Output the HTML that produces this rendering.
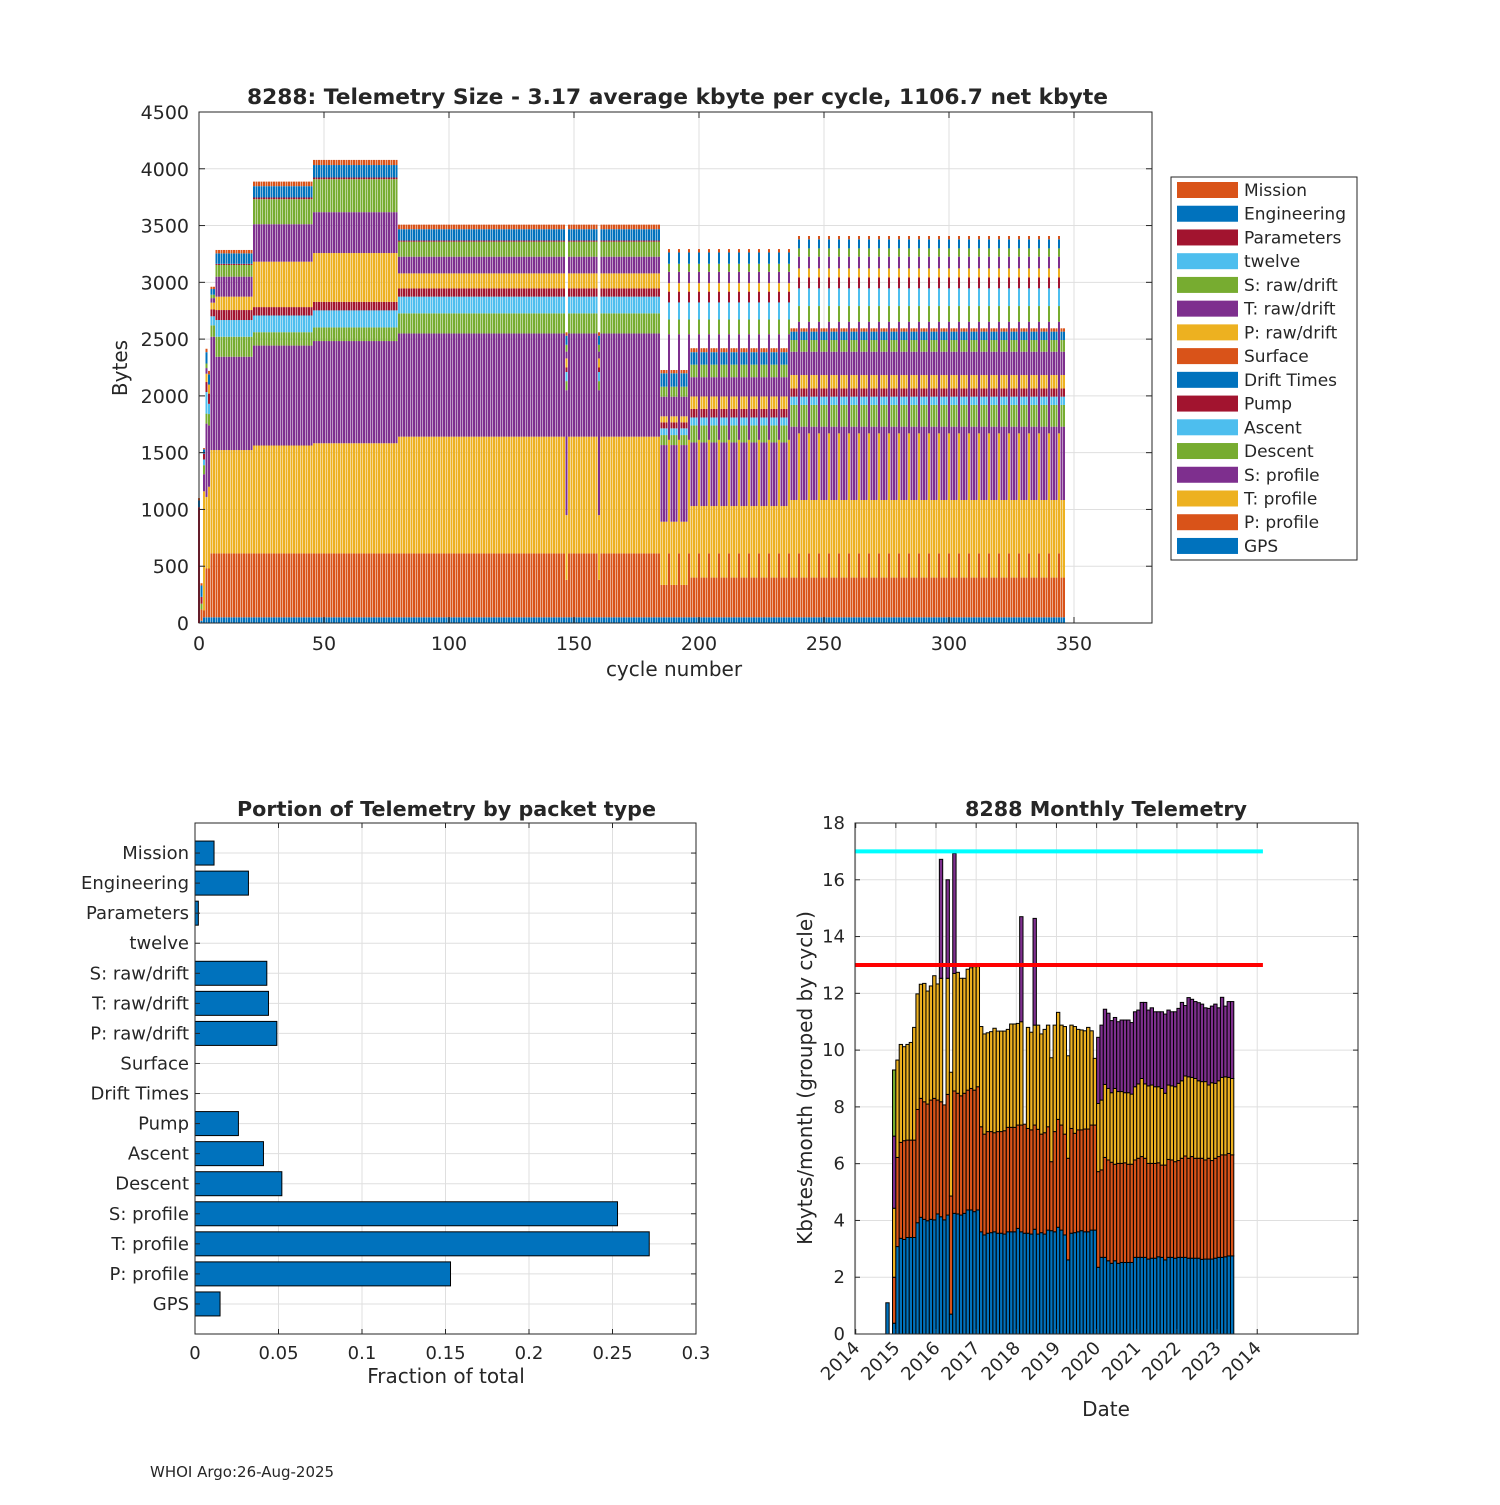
<!DOCTYPE html>
<html><head><meta charset="utf-8">
<style>
html,body{margin:0;padding:0;background:#fff;}
svg text{font-family:"DejaVu Sans","Liberation Sans",sans-serif;fill:#262626;}
</style></head>
<body>
<svg id="fig" width="1500" height="1500" viewBox="0 0 1500 1500" xmlns="http://www.w3.org/2000/svg">
<rect x="0" y="0" width="1500" height="1500" fill="#fff"/>
<g id="top"></g>
<g id="bl"></g>
<g id="br"></g>
<text x="150" y="1477" font-size="15">WHOI Argo:26-Aug-2025</text>
</svg>
<script>
// ---------- TOP CHART DATA ----------
// regimes: R0,R1,R2,R3,R4,R5,B,C1,C2,D,S1,E1,E2a,E2b,T1,T2
const layerNames = ["GPS","P: profile","T: profile","S: profile","Descent","Ascent","Pump","Drift Times","Surface","P: raw/drift","T: raw/drift","S: raw/drift","twelve","Parameters","Engineering","Mission"];
const gpsBytes     = [0,20,50,50,50,50,50,50,50,50,50,50,50,50,50,50];
const pProfBytes   = [0,100,60,430,430,563,563,563,563,563,330,285,350,350,563,563];
const tProfBytes   = [0,0,1050,630,720,910,910,950,970,1028,570,557,630,683,1000,1057];
const sProfBytes   = [0,0,150,646,540,998,822,880,900,909,1100,675,560,646,930,983];
const descentBytes = [0,50,80,88,100,100,176,118,120,177,80,88,150,191,130,138];
const ascentBytes  = [0,0,50,190,90,80,147,147,150,147,80,59,70,73,150,156];
const pumpBytes    = [0,60,50,88,90,60,88,74,75,73,40,53,75,73,95,97];
const driftBytes   = [0,0,0,0,0,0,0,0,0,0,0,0,0,0,0,0];
const surfaceBytes = [0,0,0,0,0,0,0,0,0,0,0,0,0,0,0,0];
const pRawBytes    = [0,0,0,73,80,60,118,400,430,132,80,53,110,118,75,79];
const tRawBytes    = [0,0,0,50,0,40,176,330,360,147,60,173,170,205,100,103];
const sRawBytes    = [0,0,0,40,0,30,103,220,290,132,60,88,110,103,70,73];
const twelveBytes  = [0,0,0,0,0,0,0,0,0,0,0,0,0,0,0,0];
const paramBytes   = [1020,0,0,0,0,0,10,15,15,10,0,0,0,0,0,0];
const engBytes     = [60,100,40,100,90,50,92,100,110,100,80,118,110,74,100,80];
const missionBytes = [20,20,10,30,30,20,30,40,45,40,30,29,35,29,30,29];
const regimeRuns = [[0,1],[1,1],[2,1],[3,1],[4,1],[5,2],[6,15],[7,24],[8,34],[9,67],[10,1],[9,12],[10,1],[9,24],[11,11],[12,40],[13,111]];
const tallCyclesA = [188,192,196,200,204,208,212,216,220,224,228,232,236];
const tallCyclesB = [240,244,248,252,256,260,264,268,272,276,280,284,288,292,296,300,304,308,312,316,320,324,328,332,336,340,344];
const topYTicks = [0,500,1000,1500,2000,2500,3000,3500,4000,4500];
const topXTicks = [0,50,100,150,200,250,300,350];

// ---------- BOTTOM LEFT DATA ----------
const packetTypes = ["GPS","P: profile","T: profile","S: profile","Descent","Ascent","Pump","Drift Times","Surface","P: raw/drift","T: raw/drift","S: raw/drift","twelve","Parameters","Engineering","Mission"];
const packetFractions = [0.015,0.153,0.272,0.253,0.052,0.041,0.026,0,0,0.049,0.044,0.043,0,0.002,0.032,0.0114];
const fracTicks = [0,0.05,0.1,0.15,0.2,0.25,0.3];
const fracTickLabels = ["0","0.05","0.1","0.15","0.2","0.25","0.3"];

// ---------- BOTTOM RIGHT DATA (stack tops, kbytes) ----------
const blueTop = [1.1,0,0.38,3.08,3.37,3.33,3.40,3.40,3.40,3.92,4.11,4.04,3.99,4.04,4.02,4.23,4.13,4.02,4.19,0.7,4.25,4.23,4.19,4.25,4.37,4.37,4.31,4.37,3.60,3.49,3.55,3.57,3.60,3.55,3.55,3.52,3.60,3.60,3.60,3.72,3.60,3.55,3.55,3.52,3.69,3.52,3.57,3.52,3.66,3.64,3.60,3.76,3.66,3.49,2.61,3.55,3.57,3.60,3.64,3.60,3.60,3.66,3.66,2.35,2.70,2.70,2.58,2.49,2.58,2.49,2.52,2.52,2.52,2.52,2.70,2.70,2.70,2.70,2.64,2.67,2.67,2.72,2.70,2.61,2.70,2.70,2.67,2.70,2.70,2.70,2.67,2.67,2.67,2.67,2.63,2.64,2.64,2.64,2.67,2.70,2.70,2.72,2.75,2.75];
const orangeTop = [0,0,2.0,6.22,6.75,6.81,6.83,6.83,6.83,7.91,8.30,8.18,8.10,8.24,8.30,8.24,8.18,8.07,8.44,4.86,8.56,8.48,8.39,8.48,8.59,8.65,8.59,8.71,7.30,7.04,7.13,7.13,7.09,7.13,7.13,7.16,7.28,7.28,7.28,7.36,7.36,7.39,7.24,7.19,7.36,7.21,7.04,7.09,7.30,6.07,7.13,7.56,7.36,7.04,6.19,7.24,7.07,7.19,7.19,7.22,7.22,7.36,7.36,5.72,5.78,6.22,6.13,6.05,5.98,6.01,6.01,6.03,5.98,5.98,6.13,6.19,6.25,6.19,6.01,6.01,6.01,6.03,5.95,5.95,6.15,6.13,6.07,6.11,6.19,6.27,6.19,6.25,6.19,6.19,6.19,6.13,6.19,6.11,6.19,6.25,6.31,6.31,6.36,6.31];
const yellowTop = [0,0,4.43,9.65,10.2,10.12,10.2,10.27,10.8,11.98,12.32,12.35,12.08,12.26,12.62,12.33,12.53,0,12.53,9.22,12.70,12.74,12.53,12.53,12.85,12.90,12.94,12.94,10.83,10.57,10.61,10.65,10.77,10.67,10.67,10.67,10.73,10.92,10.92,10.94,11.0,0,10.80,10.63,10.88,10.88,10.57,10.73,10.88,9.73,10.88,11.33,10.88,10.83,9.80,10.88,10.83,10.73,10.71,10.68,10.80,10.68,9.71,8.12,8.24,8.79,8.65,8.50,8.65,8.54,8.54,8.50,8.50,8.45,8.71,8.81,9.00,8.81,8.74,8.77,8.71,8.71,8.65,8.48,8.77,8.74,8.71,8.83,8.92,9.09,9.06,9.04,9.00,8.92,8.89,8.89,8.77,8.85,8.83,8.92,9.04,9.06,9.04,9.00];
const purpleTop = [0,0,6.97,0,0,0,0,0,0,0,0,0,0,0,0,0,16.72,0,16.0,0,16.93,0,0,0,0,0,0,0,0,0,0,0,0,0,0,0,0,0,0,0,14.7,0,0,0,14.64,0,0,0,0,0,0,0,0,0,0,0,0,0,0,0,0,0,0,10.45,10.88,11.44,11.30,11.04,11.15,11.0,11.06,11.06,11.06,10.97,11.35,11.41,11.68,11.68,11.41,11.49,11.35,11.35,11.35,11.27,11.41,11.35,11.35,11.47,11.68,11.57,11.85,11.79,11.71,11.67,11.62,11.49,11.47,11.55,11.62,11.49,11.86,11.55,11.71,11.71];
const greenTop = [0,0,9.3,0,0,0,0,0,0,0,0,0,0,0,0,0,0,0,0,0,0,0,0,0,0,0,0,0,0,0,0,0,0,0,0,0,0,0,0,0,0,0,0,0,0,0,0,0,0,0,0,0,0,0,0,0,0,0,0,0,0,0,0,0,0,0,0,0,0,0,0,0,0,0,0,0,0,0,0,0,0,0,0,0,0,0,0,0,0,0,0,0,0,0,0,0,0,0,0,0,0,0,0,0];
const firstMonth = 9;
const limitHigh = 17, limitLow = 13;
const kbTicks = [0,2,4,6,8,10,12,14,16,18];
const yearTickLabels = ["2014","2015","2016","2017","2018","2019","2020","2021","2022","2023","2014"];

// ---------- helpers ----------
const NS = "http://www.w3.org/2000/svg";
function mk(parent, tag, attrs, text) {
  const e = document.createElementNS(NS, tag);
  for (const k in attrs) e.setAttribute(k, attrs[k]);
  if (text !== undefined) e.textContent = text;
  parent.appendChild(e);
  return e;
}
const C = {blue:"#0072BD",orange:"#D95319",yellow:"#EDB120",purple:"#7E2F8E",green:"#77AC30",lblue:"#4DBEEE",red:"#A2142F"};
const layerColors = [C.blue,C.orange,C.yellow,C.purple,C.green,C.lblue,C.red,C.blue,C.orange,C.yellow,C.purple,C.green,C.lblue,C.red,C.blue,C.orange];
const layerData = [gpsBytes,pProfBytes,tProfBytes,sProfBytes,descentBytes,ascentBytes,pumpBytes,driftBytes,surfaceBytes,pRawBytes,tRawBytes,sRawBytes,twelveBytes,paramBytes,engBytes,missionBytes];
const GRID = "#dfdfdf", AX = "#262626";

// ---------- TOP CHART ----------
(function(){
  const g = document.getElementById('top');
  const L=199,R=1152,T=112,B=623;
  const xT = c => L + c*2.5;
  const yT = b => B - b*(B-T)/4500;
  for (const t of topYTicks) {
    const gl = mk(g,'line',{x1:L,x2:R,y1:yT(t),y2:yT(t),stroke:GRID,'stroke-width':1});
    
    
  }
  for (const t of topXTicks) {
    const gl = mk(g,'line',{x1:xT(t),x2:xT(t),y1:T,y2:B,stroke:GRID,'stroke-width':1});
    
    
  }
  const reg = [];
  for (const [r,n] of regimeRuns) for (let i=0;i<n;i++) reg.push(r);
  for (const c of tallCyclesA) reg[c] = 14;
  for (const c of tallCyclesB) reg[c] = 15;
  const bars = mk(g,'g',{});
  
  
  for (let c=0;c<reg.length;c++){
    let cum = 0;
    for (let l=0;l<layerData.length;l++){
      const v = layerData[l][reg[c]];
      if (!v) continue;
      const y1 = yT(cum+v), y0 = yT(cum);
      const r = mk(bars,'rect',{x:xT(c)-1,y:y1,width:2,height:y0-y1,fill:layerColors[l]});
      
      
      cum += v;
    }
  }
  mk(g,'rect',{x:L,y:T,width:R-L,height:B-T,fill:'none',stroke:AX,'stroke-width':1});
  for (const t of topYTicks) {
    mk(g,'line',{x1:L,x2:L+6,y1:yT(t),y2:yT(t),stroke:AX});
    mk(g,'line',{x1:R,x2:R-6,y1:yT(t),y2:yT(t),stroke:AX});
    const tx = mk(g,'text',{x:L-10,y:yT(t)+7,'font-size':19,'text-anchor':'end'},String(t));
    
    
  }
  for (const t of topXTicks) {
    mk(g,'line',{x1:xT(t),x2:xT(t),y1:B,y2:B-6,stroke:AX});
    mk(g,'line',{x1:xT(t),x2:xT(t),y1:T,y2:T+6,stroke:AX});
    const tx = mk(g,'text',{x:xT(t),y:B+27,'font-size':19,'text-anchor':'middle'},String(t));
    
    
  }
  let e = mk(g,'text',{x:247,y:104,'font-size':21,'font-weight':'bold',fill:'#000',textLength:861,lengthAdjust:'spacingAndGlyphs'},"8288: Telemetry Size - 3.17 average kbyte per cycle, 1106.7 net kbyte");
   
  e = mk(g,'text',{x:674,y:676,'font-size':20,'text-anchor':'middle'},"cycle number");
   
  e = mk(g,'text',{x:0,y:0,'font-size':20,'text-anchor':'middle',transform:'translate(127,368) rotate(-90)'},"Bytes");
   
  const lg = mk(g,'g',{});
   
  mk(lg,'rect',{x:1171,y:177,width:186,height:383,fill:'#fff',stroke:AX,'stroke-width':1});
  for (let i=0;i<16;i++){
    const l = 15-i;
    const y = 190 + i*23.73;
    const it = mk(lg,'g',{});
     
    mk(it,'rect',{x:1177,y:y-8,width:61,height:16,fill:layerColors[l]});
    mk(it,'text',{x:1244,y:y+6,'font-size':17},layerNames[l]);
  }
})();

// ---------- BOTTOM LEFT ----------
(function(){
  const g = document.getElementById('bl');
  const L=195,R=696,T=823,B=1334;
  const xL = f => L + f*(R-L)/0.3;
  const yL = i => B - i*(B-T)/17;
  for (const t of fracTicks){
    const gl = mk(g,'line',{x1:xL(t),x2:xL(t),y1:T,y2:B,stroke:GRID});
     
  }
  for (let i=1;i<=16;i++){
    const gl = mk(g,'line',{x1:L,x2:R,y1:yL(i),y2:yL(i),stroke:GRID});
     
  }
  for (let i=0;i<packetTypes.length;i++){
    const f = packetFractions[i];
    if (f>0){
      const r = mk(g,'rect',{x:L,y:yL(i+1)-12,width:xL(f)-L,height:24,fill:C.blue,stroke:'#000','stroke-width':1});
      
      
    }
    const tx = mk(g,'text',{x:L-6,y:yL(i+1)+6,'font-size':18,'text-anchor':'end'},packetTypes[i]);
     
    mk(g,'line',{x1:L,x2:L+5,y1:yL(i+1),y2:yL(i+1),stroke:AX});
    mk(g,'line',{x1:R,x2:R-5,y1:yL(i+1),y2:yL(i+1),stroke:AX});
  }
  mk(g,'rect',{x:L,y:T,width:R-L,height:B-T,fill:'none',stroke:AX});
  for (let i=0;i<fracTicks.length;i++){
    const t = fracTicks[i];
    mk(g,'line',{x1:xL(t),x2:xL(t),y1:B,y2:B-5,stroke:AX});
    mk(g,'line',{x1:xL(t),x2:xL(t),y1:T,y2:T+5,stroke:AX});
    const tx = mk(g,'text',{x:xL(t),y:B+25,'font-size':18,'text-anchor':'middle'},fracTickLabels[i]);
     
  }
  let e = mk(g,'text',{x:237,y:816,'font-size':20,'font-weight':'bold',fill:'#000',textLength:419,lengthAdjust:'spacingAndGlyphs'},"Portion of Telemetry by packet type");
   
  e = mk(g,'text',{x:446,y:1383,'font-size':20,'text-anchor':'middle'},"Fraction of total");
   
})();

// ---------- BOTTOM RIGHT ----------
(function(){
  const g = document.getElementById('br');
  const L=855,R=1358,T=823,B=1334;
  const xR = m => 855.7 + m*3.346;
  const yR = v => B - v*(B-T)/18;
  for (let i=0;i<yearTickLabels.length;i++){
    const gl = mk(g,'line',{x1:xR(12*i),x2:xR(12*i),y1:T,y2:B,stroke:GRID});
     
  }
  for (const t of kbTicks){
    const gl = mk(g,'line',{x1:L,x2:R,y1:yR(t),y2:yR(t),stroke:GRID});
     
  }
  const stacks = [[blueTop,C.blue],[orangeTop,C.orange],[yellowTop,C.yellow],[purpleTop,C.purple],[greenTop,C.green]];
  const bars = mk(g,'g',{});
   
  for (let k=0;k<blueTop.length;k++){
    let prev = 0;
    const x0 = xR(firstMonth+k), x1 = xR(firstMonth+k+1);
    for (const [arr,col] of stacks){
      const v = arr[k];
      if (!v || v<=prev) continue;
      const r = mk(bars,'rect',{x:x0,y:yR(v),width:x1-x0,height:yR(prev)-yR(v),fill:col,stroke:'#000','stroke-width':1});
       
      prev = v;
    }
  }
  let e = mk(g,'line',{x1:L,x2:xR(121.7),y1:yR(limitHigh),y2:yR(limitHigh),stroke:'#00FFFF','stroke-width':4});
   
  e = mk(g,'line',{x1:L,x2:xR(121.7),y1:yR(limitLow),y2:yR(limitLow),stroke:'#FF0000','stroke-width':4});
   
  mk(g,'rect',{x:L,y:T,width:R-L,height:B-T,fill:'none',stroke:AX});
  for (const t of kbTicks){
    mk(g,'line',{x1:L,x2:L+5,y1:yR(t),y2:yR(t),stroke:AX});
    mk(g,'line',{x1:R,x2:R-5,y1:yR(t),y2:yR(t),stroke:AX});
    const tx = mk(g,'text',{x:L-10,y:yR(t)+6,'font-size':18,'text-anchor':'end'},String(t));
     
  }
  for (let i=0;i<yearTickLabels.length;i++){
    const x = xR(12*i);
    mk(g,'line',{x1:x,x2:x,y1:B,y2:B-5,stroke:AX});
    mk(g,'line',{x1:x,x2:x,y1:T,y2:T+5,stroke:AX});
    const tx = mk(g,'text',{x:0,y:0,'font-size':18,'text-anchor':'end',transform:`translate(${x+5},${B+15}) rotate(-45)`},yearTickLabels[i]);
     
  }
  e = mk(g,'text',{x:965,y:816,'font-size':20,'font-weight':'bold',fill:'#000',textLength:282,lengthAdjust:'spacingAndGlyphs'},"8288 Monthly Telemetry");
   
  e = mk(g,'text',{x:1106,y:1416,'font-size':20,'text-anchor':'middle'},"Date");
   
  e = mk(g,'text',{x:0,y:0,'font-size':20,'text-anchor':'middle',transform:'translate(812,1078) rotate(-90)'},"Kbytes/month (grouped by cycle)");
   
})();
</script>
</body></html>
